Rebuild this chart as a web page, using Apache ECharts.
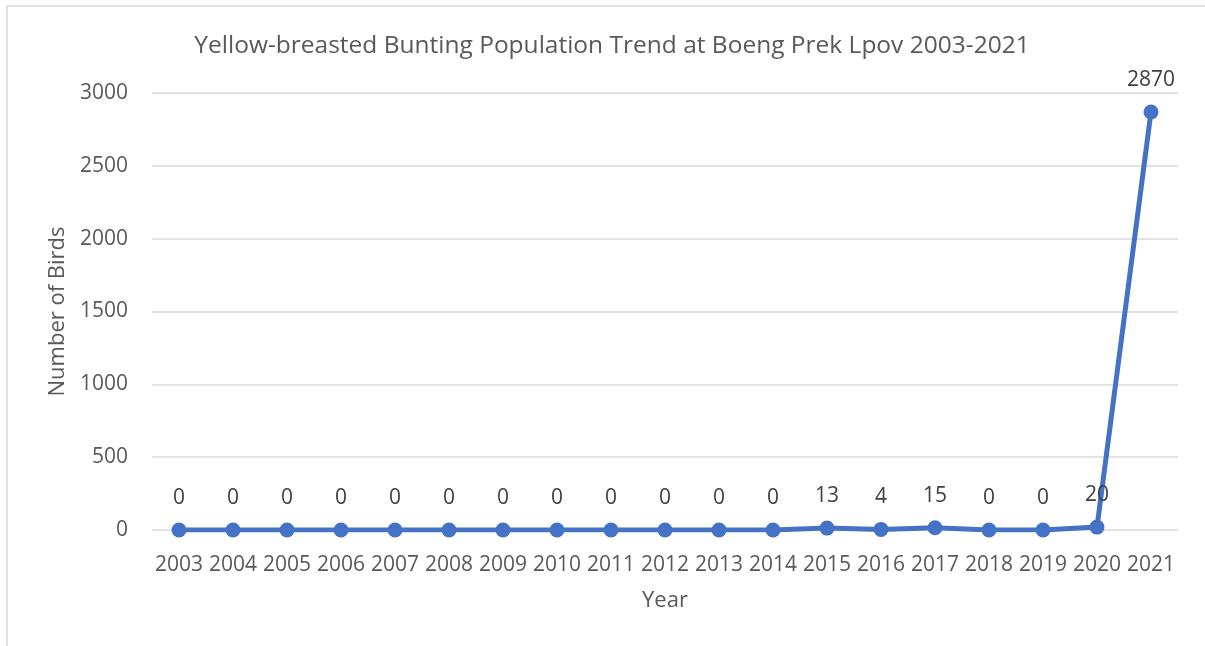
<!DOCTYPE html>
<html>
<head>
<meta charset="utf-8">
<script src="https://cdn.jsdelivr.net/npm/echarts@6/dist/echarts.min.js"></script>
<style>
  html, body { margin: 0; padding: 0; background: #fff; }
  #chart { width: 1205px; height: 646px; }
</style>
</head>
<body>
<div id="chart"></div>
<script>
// Survey years and counted birds
const years = ['2003','2004','2005','2006','2007','2008','2009','2010','2011','2012',
               '2013','2014','2015','2016','2017','2018','2019','2020','2021'];
const birds = [0,0,0,0,0,0,0,0,0,0,0,0,13,4,15,0,0,20,2870];
const yTicks = [0, 500, 1000, 1500, 2000, 2500, 3000];

const FONT = '"Open Sans", "Noto Sans", sans-serif';
const GREY = '#595959';

const chart = echarts.init(document.getElementById('chart'), null, { renderer: 'canvas' });
chart.setOption({
  backgroundColor: '#fff',
  animation: false,
  graphic: [{
    type: 'rect',
    shape: { x: 7, y: 6, width: 1300, height: 700 },
    style: { fill: 'none', stroke: '#d9d9d9', lineWidth: 1.5 },
    silent: true
  }],
  title: {
    text: 'Yellow-breasted Bunting Population Trend at Boeng Prek Lpov 2003-2021',
    left: 607, top: 29, textAlign: 'center',
    textStyle: { fontFamily: FONT, fontSize: 24.5, fontWeight: 'normal', color: GREY }
  },
  grid: { left: 152, right: 27, top: 93, bottom: 116 },
  xAxis: {
    type: 'category',
    data: years,
    boundaryGap: true,
    name: 'Year',
    nameLocation: 'middle',
    nameGap: 60,
    nameTextStyle: { fontFamily: FONT, fontSize: 22, color: GREY },
    axisLine: { show: false },
    axisTick: { show: false },
    axisLabel: { fontFamily: FONT, fontSize: 21, color: GREY, margin: 25, interval: 0 }
  },
  yAxis: {
    type: 'value',
    min: yTicks[0], max: yTicks[yTicks.length - 1], interval: 500,
    name: 'Number of Birds',
    nameLocation: 'middle',
    nameGap: 78,
    nameTextStyle: { fontFamily: FONT, fontSize: 22, color: GREY },
    axisLine: { show: false },
    axisTick: { show: false },
    axisLabel: { fontFamily: FONT, fontSize: 21, color: GREY, margin: 24,
                 formatter: v => String(v) },
    splitLine: { lineStyle: { color: '#d9d9d9', width: 1.5 } }
  },
  series: [{
    type: 'line',
    data: birds,
    symbol: 'circle',
    symbolSize: 15,
    lineStyle: { color: '#4472C4', width: 5 },
    itemStyle: { color: '#4472C4' },
    label: {
      show: true, position: 'top', distance: 14,
      fontFamily: FONT, fontSize: 21, color: '#404040'
    },
    z: 3
  }]
});
</script>
</body>
</html>
